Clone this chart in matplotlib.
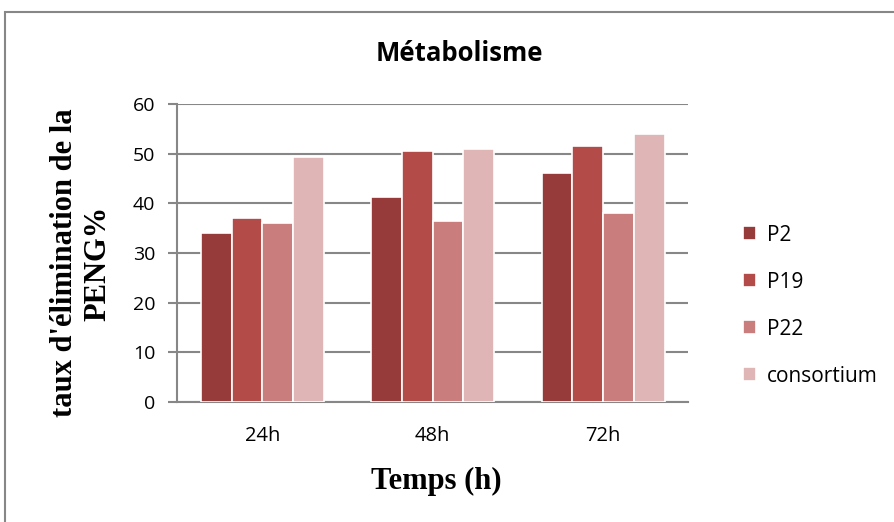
import matplotlib.pyplot as plt
import matplotlib.patches as patches
import numpy as np

# data
categories = ['24h', '48h', '72h']
series_names = ['P2', 'P19', 'P22', 'consortium']
p2 = [34.1, 41.3, 46.0]
p19 = [37.0, 50.5, 51.5]
p22 = [36.0, 36.4, 38.0]
consortium = [49.3, 50.9, 54.0]
colors = ['#963A3A', '#B34B49', '#C97E7D', '#DFB5B5']

fig = plt.figure(figsize=(8.94, 5.22), dpi=100)
ax = fig.add_axes([0.198, 0.23, 0.572, 0.571])

# outer chart border
fig.patches.append(patches.Rectangle((5/894, -0.1), 1.2, 1 - 12/522 + 0.1, transform=fig.transFigure,
                                     fill=False, ec='#878787', lw=1.5))

x = np.arange(len(categories))
width = 0.18
for i, (vals, name) in enumerate(zip([p2, p19, p22, consortium], series_names)):
    ax.bar(x + (i - 1.5) * width, vals, width, color=colors[i], edgecolor='white',
           linewidth=1.2, label=name, zorder=3)

ax.set_xlim(-0.5, 2.5)
ax.set_ylim(0, 60)
ax.set_yticks(range(0, 61, 10))
ax.set_xticks(x)
ax.set_xticklabels(categories)
ax.grid(axis='y', color='#878787', lw=1.5, zorder=0)
for s in ['top', 'right']:
    ax.spines[s].set_visible(False)
ax.spines['left'].set_color('#878787')
ax.spines['bottom'].set_color('#878787')
ax.spines['left'].set_linewidth(1.5)
ax.spines['bottom'].set_linewidth(1.5)
ax.tick_params(axis='y', length=6.5, width=1.5, color='#878787', labelsize=14, pad=9)
ax.tick_params(axis='x', length=0, labelsize=14.5, pad=17)
for t in ax.get_xticklabels() + ax.get_yticklabels():
    t.set_family('Open Sans')

fig.text(0.514, 0.898, 'Métabolisme', ha='center', va='center', fontsize=18.5,
         fontweight='bold', family='Open Sans')
fig.text(0.091, 0.496, "taux d'élimination de la\nPENG%", ha='center', va='center',
         rotation=90, fontsize=22, fontweight='bold', family='Liberation Serif',
         linespacing=1.2)
fig.text(0.488, 0.077, 'Temps (h)', ha='center', va='center', fontsize=22,
         fontweight='bold', family='Liberation Serif')

leg = ax.legend(loc='center left', bbox_to_anchor=(1.07, 0.323), frameon=False,
                prop={'family': 'Open Sans', 'size': 15}, handlelength=0.65,
                handleheight=0.65, labelspacing=1.25, handletextpad=0.5)

fig.savefig('out.png', dpi=100)
